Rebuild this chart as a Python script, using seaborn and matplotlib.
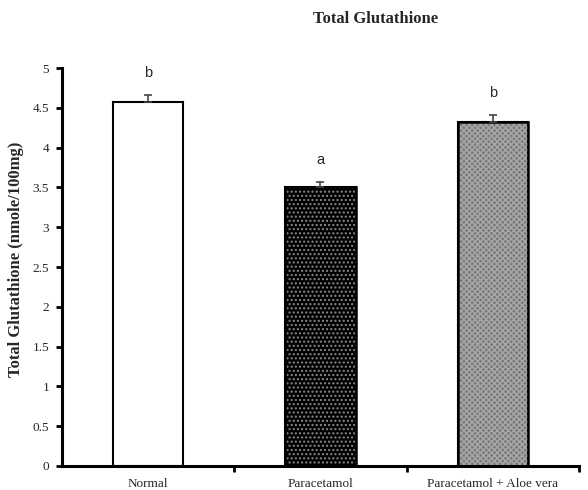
import matplotlib
matplotlib.use("Agg")
import matplotlib.pyplot as plt
from matplotlib.patches import Rectangle
import seaborn as sns
import pandas as pd
import numpy as np

groups = ["Normal", "Paracetamol", "Paracetamol + Aloe vera"]
means = [4.57, 3.50, 4.32]
sem = [0.09, 0.07, 0.09]
letters = ["b", "a", "b"]

face_colors = ["white", "black", "#7a7a7a"]
hatches = [None, "....", "xxxxxx"]
hatch_colors = [None, "#8a8a8a", "#a8a8a8"]

sns.set_theme(style="white")
plt.rcParams["font.family"] = ["Liberation Serif", "DejaVu Serif"]
plt.rcParams["hatch.linewidth"] = 1.0

df = pd.DataFrame({"group": groups, "value": means})

fig = plt.figure(figsize=(5.88, 4.90), dpi=100)
ax = fig.add_axes([0.105, 0.049, 0.88, 0.812])

sns.barplot(data=df, x="group", y="value", hue="group", palette=face_colors,
            legend=False, width=0.41, edgecolor="black", linewidth=1.5,
            errorbar=None, ax=ax)

# texture overlays on the treated groups
for patch, h, hc in zip(ax.patches, hatches, hatch_colors):
    if h is None:
        continue
    overlay = Rectangle((patch.get_x(), patch.get_y()), patch.get_width(),
                        patch.get_height(), fill=False, hatch=h,
                        edgecolor=hc, linewidth=0, zorder=patch.get_zorder() + 0.1)
    ax.add_patch(overlay)
    outline = Rectangle((patch.get_x(), patch.get_y()), patch.get_width(),
                        patch.get_height(), fill=False, edgecolor="black",
                        linewidth=1.8, zorder=patch.get_zorder() + 0.2)
    ax.add_patch(outline)

x = np.arange(len(groups))
ax.errorbar(x, means, yerr=[np.zeros(len(sem)), sem], fmt="none",
            ecolor="#444444", elinewidth=1.2, capsize=3, capthick=1.2, zorder=5)

for xi, m, s, lab in zip(x, means, sem, letters):
    ax.text(xi, m + s + 0.28, lab, ha="center", va="center",
            fontsize=10.5, family=["Liberation Sans", "DejaVu Sans"])

ax.set_xlim(-0.5, 2.5)
ax.set_ylim(0, 5)
ax.set_yticks(np.arange(0, 5.01, 0.5))
ax.set_yticklabels(["0", "0.5", "1", "1.5", "2", "2.5", "3", "3.5", "4", "4.5", "5"])
ax.set_xticks(x)
ax.set_xticklabels(groups)
ax.set_xticks([0.5, 1.5, 2.5], minor=True)

ax.tick_params(axis="x", which="major", length=0, labelsize=9.5, pad=9)
ax.tick_params(axis="x", which="minor", direction="out", length=4, width=2,
               color="black", bottom=True)
ax.tick_params(axis="y", direction="out", length=4, width=2, color="black",
               labelsize=9.5, pad=5, left=True)

for side in ["top", "right"]:
    ax.spines[side].set_visible(False)
for side in ["left", "bottom"]:
    ax.spines[side].set_color("black")
    ax.spines[side].set_linewidth(2.2)

ax.set_xlabel("")
ax.set_ylabel("Total Glutathione (nmole/100mg)", fontsize=12,
              fontweight="bold")
ax.yaxis.set_label_coords(-0.072, 0.52)

fig.text(0.638, 0.961, "Total Glutathione", ha="center", va="center",
         fontsize=12, fontweight="bold")

fig.savefig("out.png", dpi=100, facecolor="white")
